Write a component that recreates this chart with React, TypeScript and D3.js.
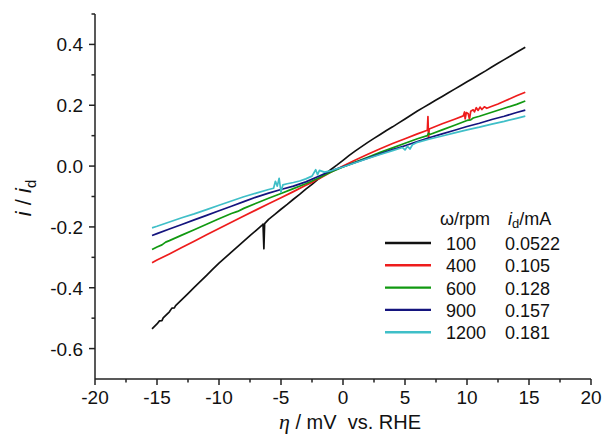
import React from 'react';
import * as d3 from 'd3';

// overpotential (mV) vs normalised current i/id, one array per rotation rate
const rate100: [number, number][] = [
  [-15.4, -0.535], [-15, -0.519], [-14.8, -0.509], [-14.6, -0.508], [-14.5, -0.499], [-14, -0.479],
  [-13.8, -0.467], [-13.6, -0.466], [-13.5, -0.459], [-13, -0.439], [-12.5, -0.419], [-12, -0.399],
  [-11.5, -0.379], [-11, -0.359], [-10.5, -0.339], [-10, -0.319], [-9.5, -0.301], [-9, -0.283],
  [-8.5, -0.265], [-8, -0.247], [-7.5, -0.229], [-7, -0.211], [-6.5, -0.193], [-6.45, -0.191],
  [-6.38, -0.272], [-6.32, -0.189], [-6, -0.175], [-5.5, -0.159], [-5, -0.142], [-4.5, -0.126],
  [-4, -0.109], [-3.5, -0.093], [-3, -0.076], [-2.5, -0.060], [-2, -0.043], [-1.5, -0.028],
  [-1, -0.012], [-0.5, 0.003], [0, 0.019], [0.5, 0.035], [1, 0.050], [1.5, 0.064], [2, 0.078],
  [2.5, 0.091], [3, 0.104], [3.5, 0.117], [4, 0.129], [4.5, 0.142], [5, 0.155], [5.5, 0.168],
  [6, 0.181], [6.5, 0.193], [7, 0.205], [7.5, 0.217], [8, 0.229], [8.5, 0.241], [9, 0.253],
  [9.5, 0.265], [10, 0.277], [10.5, 0.289], [11, 0.301], [11.5, 0.313], [12, 0.326], [12.5, 0.338],
  [13, 0.350], [13.5, 0.362], [14, 0.374], [14.7, 0.391]
];

const rate400: [number, number][] = [
  [-15.4, -0.318], [-15, -0.309], [-14, -0.289], [-13, -0.268], [-12, -0.247], [-11, -0.226],
  [-10, -0.205], [-9, -0.185], [-8, -0.164], [-7, -0.144], [-6, -0.124], [-5, -0.104], [-4, -0.084],
  [-3, -0.063], [-2.4, -0.052], [-2.2, -0.046], [-2, -0.043], [-1, -0.020], [0, 0.000], [1, 0.020],
  [2, 0.039], [3, 0.057], [4, 0.074], [5, 0.090], [6, 0.106], [6.8, 0.118], [6.85, 0.163],
  [6.9, 0.090], [6.95, 0.121], [7, 0.123], [8, 0.139], [9, 0.154], [9.7, 0.165], [9.8, 0.178],
  [9.85, 0.155], [9.95, 0.176], [10.1, 0.172], [10.2, 0.154], [10.3, 0.180], [10.5, 0.185],
  [10.6, 0.178], [10.75, 0.192], [10.9, 0.183], [11.05, 0.194], [11.2, 0.186], [11.4, 0.195],
  [11.6, 0.190], [11.85, 0.194], [12.5, 0.204], [13, 0.213], [14, 0.231], [14.7, 0.243]
];

const rate600: [number, number][] = [
  [-15.4, -0.274], [-15, -0.266], [-14.6, -0.259], [-14.3, -0.250], [-14, -0.245], [-13, -0.227],
  [-12, -0.209], [-11, -0.191], [-10, -0.173], [-9, -0.156], [-8.5, -0.149], [-8, -0.139],
  [-7, -0.122], [-6, -0.106], [-5, -0.090], [-4, -0.074], [-3, -0.058], [-2, -0.040], [-1, -0.020],
  [0, -0.003], [1, 0.013], [2, 0.029], [3, 0.045], [4, 0.060], [5, 0.075], [6, 0.090], [6.8, 0.100],
  [6.9, 0.108], [7, 0.104], [8, 0.119], [9, 0.134], [10, 0.150], [10.3, 0.152], [10.5, 0.158],
  [11, 0.164], [12, 0.177], [13, 0.190], [14, 0.203], [14.7, 0.214]
];

const rate900: [number, number][] = [
  [-15.4, -0.228], [-15, -0.222], [-14, -0.207], [-13, -0.192], [-12, -0.177], [-11, -0.162],
  [-10, -0.147], [-9, -0.132], [-8, -0.117], [-7, -0.102], [-6, -0.089], [-5, -0.077], [-4, -0.066],
  [-3, -0.052], [-2, -0.034], [-1, -0.016], [0, -0.002], [1, 0.012], [2, 0.026], [3, 0.040],
  [4, 0.054], [5, 0.067], [6, 0.081], [7, 0.094], [8, 0.106], [9, 0.118], [10, 0.130], [11, 0.141],
  [12, 0.153], [13, 0.164], [14, 0.176], [14.7, 0.184]
];

const rate1200: [number, number][] = [
  [-15.4, -0.203], [-15, -0.198], [-14, -0.184], [-13, -0.170], [-12, -0.157], [-11, -0.143],
  [-10, -0.129], [-9, -0.115], [-8, -0.101], [-7, -0.089], [-6, -0.077], [-5.6, -0.073],
  [-5.45, -0.050], [-5.3, -0.066], [-5.15, -0.040], [-5.0, -0.086], [-4.85, -0.062], [-4.5, -0.058],
  [-4, -0.054], [-3.5, -0.049], [-3, -0.042], [-2.5, -0.033], [-2.2, -0.012], [-2.05, -0.028],
  [-1.9, -0.014], [-1.5, -0.020], [-1, -0.016], [-0.5, -0.009], [0, -0.003], [1, 0.011], [2, 0.025],
  [3, 0.038], [4, 0.051], [4.8, 0.061], [5.0, 0.053], [5.2, 0.065], [5.4, 0.056], [5.6, 0.070],
  [6, 0.078], [7, 0.089], [8, 0.099], [9, 0.109], [10, 0.119], [11, 0.128], [12, 0.138],
  [13, 0.147], [14, 0.157], [14.7, 0.164]
];

const series = [rate100, rate400, rate600, rate900, rate1200];
const rotationRates = ['100', '400', '600', '900', '1200'];
const limitingCurrents = ['0.0522', '0.105', '0.128', '0.157', '0.181'];
const colors = ['#111111', '#ee1c1c', '#119911', '#14147e', '#3fbfc8'];

const xTicks = [-20, -15, -10, -5, 0, 5, 10, 15, 20];
const xMinorTicks = [-17.5, -12.5, -7.5, -2.5, 2.5, 7.5, 12.5, 17.5];
const yTicks = [-0.6, -0.4, -0.2, 0.0, 0.2, 0.4];
const yMinorTicks = [-0.5, -0.3, -0.1, 0.1, 0.3, 0.5];

const W = 605;
const H = 438;
const FONT = '"Liberation Sans", Arial, sans-serif';

export default function App() {
  const x = d3.scaleLinear().domain([-20, 20]).range([95, 591]);
  const y = d3.scaleLinear().domain([-0.7, 0.5]).range([379, 14]);

  const line = d3.line<[number, number]>()
    .x(d => x(d[0]))
    .y(d => y(d[1]));

  const axisColor = '#222';
  const legendX = 385;
  const legendY = 243;
  const rowGap = 22.3;

  return (
    <svg width={W} height={H} style={{ position: 'absolute', left: 0, top: 0, background: '#fff' }}
      fontFamily={FONT}>
      {/* data */}
      {series.map((s, i) => (
        <path key={i} d={line(s) || ''} fill="none" stroke={colors[i]} strokeWidth={1.7}
          strokeLinejoin="round" />
      ))}

      {/* axes */}
      <line x1={x(-20)} x2={x(-20)} y1={y(0.5)} y2={y(-0.7)} stroke={axisColor} strokeWidth={1.5} />
      <line x1={x(-20)} x2={x(20)} y1={y(-0.7)} y2={y(-0.7)} stroke={axisColor} strokeWidth={1.5} />
      {xTicks.map(t => (
        <g key={'xt' + t}>
          <line x1={x(t)} x2={x(t)} y1={y(-0.7)} y2={y(-0.7) + 6} stroke={axisColor} strokeWidth={1.5} />
          <text x={x(t)} y={404} textAnchor="middle" fontSize={19} fill="#111">{t}</text>
        </g>
      ))}
      {xMinorTicks.map(t => (
        <line key={'xm' + t} x1={x(t)} x2={x(t)} y1={y(-0.7)} y2={y(-0.7) + 3.5} stroke={axisColor} strokeWidth={1.5} />
      ))}
      {yTicks.map(t => (
        <g key={'yt' + t}>
          <line x1={x(-20) - 6} x2={x(-20)} y1={y(t)} y2={y(t)} stroke={axisColor} strokeWidth={1.5} />
          <text x={83} y={y(t) + 7} textAnchor="end" fontSize={19} fill="#111">{t.toFixed(1)}</text>
        </g>
      ))}
      {yMinorTicks.map(t => (
        <line key={'ym' + t} x1={x(-20) - 3.5} x2={x(-20)} y1={y(t)} y2={y(t)} stroke={axisColor} strokeWidth={1.5} />
      ))}

      {/* axis titles */}
      <text x={350} y={429} textAnchor="middle" fontSize={20} fill="#111" style={{ whiteSpace: 'pre' }}>
        <tspan fontFamily='"Liberation Serif", serif' fontStyle="italic" fontSize={22}>η</tspan>
        {' / mV  vs. RHE'}
      </text>
      <text transform="translate(31,198) rotate(-90)" textAnchor="middle" fontSize={22} fill="#111"
        style={{ whiteSpace: 'pre' }}>
        <tspan fontStyle="italic">i</tspan>
        {' / '}
        <tspan fontStyle="italic">i</tspan>
        <tspan fontSize={15} dy={5}>d</tspan>
      </text>

      {/* legend */}
      <text x={440} y={225} fontSize={18} fill="#111">ω/rpm</text>
      <text x={508} y={225} fontSize={18} fill="#111">
        <tspan fontStyle="italic">i</tspan>
        <tspan fontSize={13} dy={3}>d</tspan>
        <tspan dy={-3}>/mA</tspan>
      </text>
      {rotationRates.map((r, i) => (
        <g key={'lg' + r} transform={`translate(0,${legendY + i * rowGap})`}>
          <line x1={legendX} x2={legendX + 46} y1={0} y2={0} stroke={colors[i]} strokeWidth={2.4} />
          <text x={446} y={7} fontSize={18} fill="#111">{r}</text>
          <text x={505} y={7} fontSize={18} fill="#111">{limitingCurrents[i]}</text>
        </g>
      ))}
    </svg>
  );
}
